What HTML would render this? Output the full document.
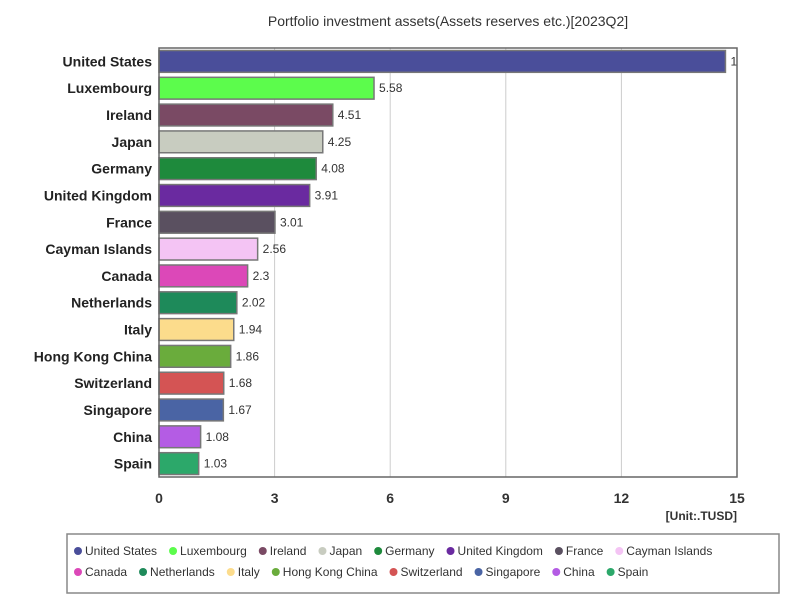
<!DOCTYPE html>
<html><head><meta charset="utf-8"><style>
body{margin:0;background:#fff;font-family:"Liberation Sans",sans-serif}
svg text{font-family:"Liberation Sans",sans-serif}
</style></head><body>
<svg id="c" width="800" height="600">
<text x="448" y="26" text-anchor="middle" font-size="14" fill="#333">Portfolio investment assets(Assets reserves etc.)[2023Q2]</text>
<g id="grid"></g><g id="bars"></g><g id="axis"></g>
<rect x="159" y="48" width="578" height="429" fill="none" stroke="#666" stroke-width="1.5"/>
<text x="737" y="520" text-anchor="end" font-size="12" font-weight="bold" fill="#333">[Unit:.TUSD]</text>
<rect x="67" y="534" width="712" height="59" fill="none" stroke="#888" stroke-width="1.5"/>
<g id="legend"></g>
</svg>
<script>
const categories=["United States","Luxembourg","Ireland","Japan","Germany","United Kingdom","France","Cayman Islands","Canada","Netherlands","Italy","Hong Kong China","Switzerland","Singapore","China","Spain"];
const values=[14.7,5.58,4.51,4.25,4.08,3.91,3.01,2.56,2.3,2.02,1.94,1.86,1.68,1.67,1.08,1.03];
const labels=["1","5.58","4.51","4.25","4.08","3.91","3.01","2.56","2.3","2.02","1.94","1.86","1.68","1.67","1.08","1.03"];
const colors=["#4a4e9a","#5cfc4c","#7a4a64","#c8ccc0","#1e8a3c","#6a2aa0","#5a5060","#f4c4f4","#dc48b8","#1e8a5a","#fcdc8c","#6aac3c","#d45454","#4a64a4","#b45ce4","#2ca86a"];
const ticks=[0,3,6,9,12,15];
const NS="http://www.w3.org/2000/svg";
const X0=159,X1=737,Y0=48,Y1=477,XMAX=15;
const x=v=>X0+(X1-X0)*v/XMAX;
const band=(Y1-Y0)/categories.length;
const y=i=>Y0+band*i;
function mk(t,a,p){const e=document.createElementNS(NS,t);for(const k in a)e.setAttribute(k,a[k]);p.appendChild(e);return e;}
const grid=document.getElementById('grid'),bars=document.getElementById('bars'),axis=document.getElementById('axis'),leg=document.getElementById('legend');
ticks.forEach(t=>{
 const l=mk('line',{x1:x(t),x2:x(t),y1:Y0,y2:Y1,stroke:'#ccc'},grid);
 
 
 const tx=mk('text',{x:x(t),y:503,'text-anchor':'middle','font-size':14,'font-weight':'bold',fill:'#333'},axis);
 tx.textContent=t;
 
 
});
categories.forEach((c,i)=>{
 const yy=y(i);
 const r=mk('rect',{x:X0,y:yy+2.5,width:x(values[i])-X0,height:band-5,fill:colors[i],stroke:'#777','stroke-width':1.5},bars);
 
 
 const lb=mk('text',{x:x(values[i])+5,y:yy+band/2+4,'font-size':12,fill:'#333'},bars);
 lb.textContent=labels[i];
 
 
 const cl=mk('text',{x:152,y:yy+band/2+5,'text-anchor':'end','font-size':14,'font-weight':'bold',fill:'#222'},axis);
 cl.textContent=c;
 
 
});
let lx=74,ly=551;
categories.forEach((c,i)=>{
 if(i==8){lx=74;ly=572;}
 const g=mk('g',{},leg);
 
 
 mk('circle',{cx:lx+4,cy:ly,r:4,fill:colors[i]},g);
 const t=mk('text',{x:lx+11,y:ly+4,'font-size':12,fill:'#333'},g);
 t.textContent=c;
 lx+=11+t.getComputedTextLength()+12;
});
</script>
</body></html>
